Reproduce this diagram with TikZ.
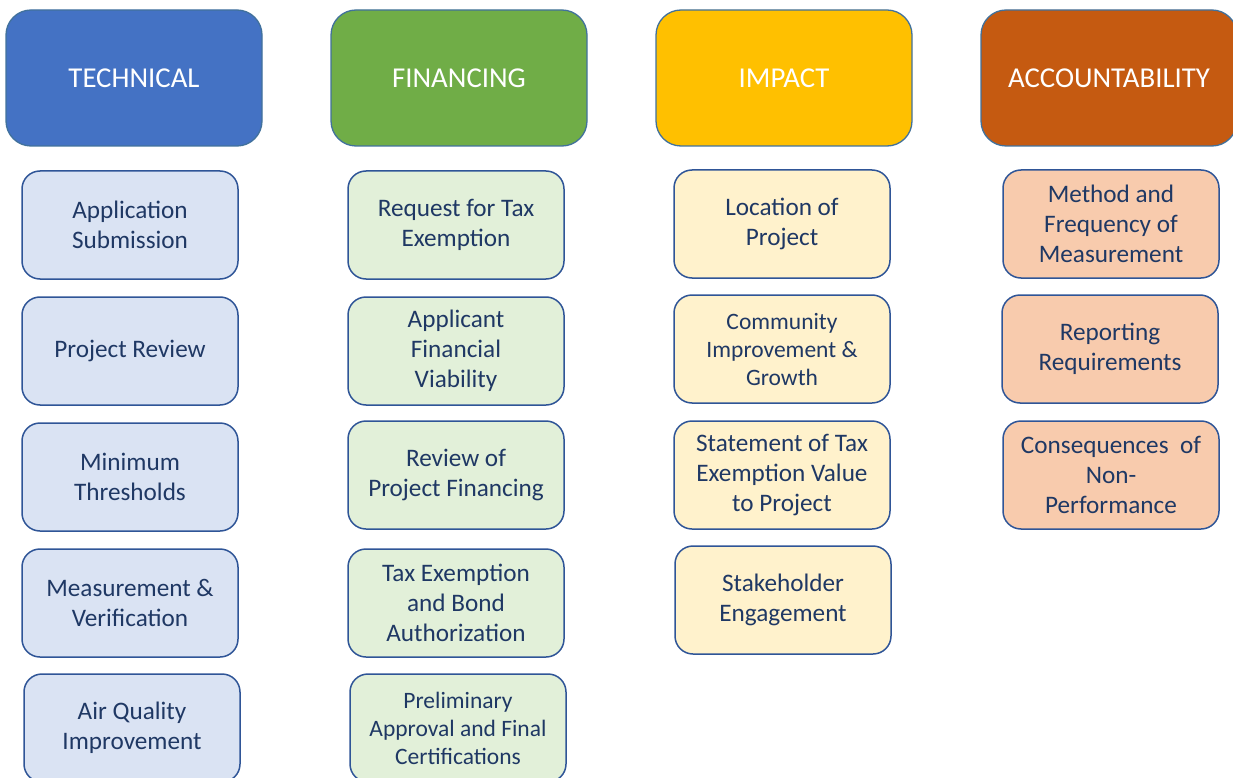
\documentclass[tikz,border=0pt]{standalone}
\usepackage{fontspec}
\setmainfont{Carlito}
\begin{document}
\definecolor{hdrline}{HTML}{41719C}
\definecolor{boxline}{HTML}{2F5597}
\definecolor{txtnavy}{HTML}{1F3864}
\definecolor{techfill}{HTML}{4472C4}
\definecolor{finfill}{HTML}{70AD47}
\definecolor{impfill}{HTML}{FFC000}
\definecolor{accfill}{HTML}{C55A11}
\definecolor{techlight}{HTML}{DAE3F3}
\definecolor{finlight}{HTML}{E2F0D9}
\definecolor{implight}{HTML}{FFF2CC}
\definecolor{acclight}{HTML}{F8CBAD}
\begin{tikzpicture}[x=1pt,y=-1pt,
  header/.style={draw=hdrline,line width=1.3pt,rounded corners=25pt,
    minimum width=256pt,minimum height=136pt,inner sep=0pt,
    text=white,font=\fontsize{28.8}{34}\selectfont},
  item/.style={draw=boxline,line width=1.5pt,rounded corners=18pt,
    minimum width=216pt,minimum height=108pt,inner sep=0pt,
    align=center,text=txtnavy,font=\fontsize{25.2}{30}\selectfont},
  smallitem/.style={item,font=\fontsize{23.5}{28}\selectfont}]
\useasboundingbox (0,0) rectangle (1233,778);
\clip (0,0) rectangle (1233,778);
% column headers
\node[header,fill=techfill] (hT) at (134,78) {TECHNICAL};
\node[header,fill=finfill]  (hF) at (459,78) {FINANCING};
\node[header,fill=impfill]  (hI) at (784,78) {IMPACT};
\node[header,fill=accfill]  (hA) at (1109,78) {ACCOUNTABILITY};
% technical
\node[item,fill=techlight] (t1) at (130,225) {Application\\Submission};
\node[item,fill=techlight] (t2) at (130,351) {Project Review};
\node[item,fill=techlight] (t3) at (130,477) {Minimum\\Thresholds};
\node[item,fill=techlight] (t4) at (130,603) {Measurement \&\\Verification};
\node[item,fill=techlight] (t5) at (132,728) {Air Quality\\Improvement};
% financing
\node[item,fill=finlight] (f1) at (456,225) {Request for Tax\\Exemption};
\node[item,fill=finlight] (f2) at (456,351) {Applicant\\Financial\\Viability};
\node[item,fill=finlight] (f3) at (456,475) {Review of\\Project Financing};
\node[item,fill=finlight] (f4) at (456,603) {Tax Exemption\\and Bond\\Authorization};
\node[smallitem,fill=finlight] (f5) at (458,728) {Preliminary\\Approval and Final\\Certifications};
% impact
\node[item,fill=implight] (i1) at (782,224) {Location of\\Project};
\node[smallitem,fill=implight] (i2) at (782,349) {Community\\Improvement \&\\Growth};
\node[item,fill=implight] (i3) at (782,475) {Statement of Tax\\Exemption Value\\to Project};
\node[item,fill=implight] (i4) at (783,600) {Stakeholder\\Engagement};
% accountability
\node[item,fill=acclight] (a1) at (1111,224) {Method and\\Frequency of\\Measurement};
\node[item,fill=acclight] (a2) at (1110,349) {Reporting\\Requirements};
\node[item,fill=acclight] (a3) at (1111,475) {Consequences\ \ of\\Non-\\Performance};
\end{tikzpicture}
\end{document}
